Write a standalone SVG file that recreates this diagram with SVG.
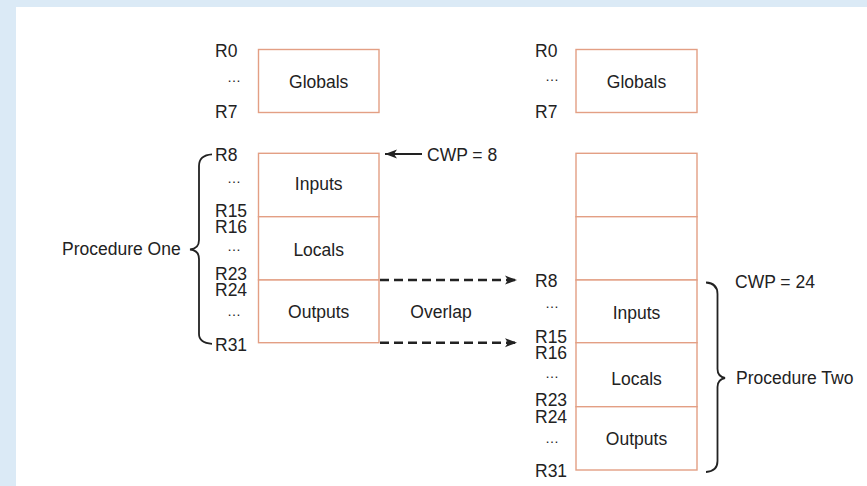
<svg xmlns="http://www.w3.org/2000/svg" width="867" height="486" viewBox="0 0 867 486">
  <style>
    text { font-family: "Liberation Sans", Arial, sans-serif; font-size: 17.5px; fill: #222; }
    .c { text-anchor: middle; }
    .dots { font-size: 14px; text-anchor: middle; }
    .box { fill: #fff; stroke: #e39f84; stroke-width: 1.4; }
    .brace { fill: none; stroke: #222; stroke-width: 1.8; }
    .dash { fill: none; stroke: #222; stroke-width: 2.4; stroke-dasharray: 9 5; }
    .solid { fill: none; stroke: #222; stroke-width: 2.2; }
  </style>
  <defs>
    <marker id="ah" markerUnits="userSpaceOnUse" markerWidth="14" markerHeight="12" viewBox="0 0 14 12" refX="12" refY="6" orient="auto">
      <path d="M0,1.5 L12,6 L0,10.5 L3,6 Z" fill="#222"/>
    </marker>
  </defs>

  <!-- background -->
  <rect x="0" y="0" width="867" height="486" fill="#dbeaf6"/>
  <rect x="16" y="7" width="851" height="479" fill="#fff"/>

  <!-- Left register file -->
  <g id="left-globals">
    <rect class="box" x="258.5" y="49.5" width="120.5" height="63"/>
    <text class="c" x="318.7" y="88">Globals</text>
    <text x="215" y="57">R0</text>
    <text class="dots" x="234" y="82">…</text>
    <text x="215" y="118">R7</text>
  </g>
  <g id="left-inputs">
    <rect class="box" x="258.5" y="153.3" width="120.5" height="63.4"/>
    <text class="c" x="318.7" y="190">Inputs</text>
    <text x="215" y="161">R8</text>
    <text class="dots" x="234" y="183">…</text>
    <text x="215" y="216.5">R15</text>
  </g>
  <g id="left-locals">
    <rect class="box" x="258.5" y="216.7" width="120.5" height="63.3"/>
    <text class="c" x="318.7" y="256">Locals</text>
    <text x="215" y="232.5">R16</text>
    <text class="dots" x="234" y="251">…</text>
    <text x="215" y="280">R23</text>
  </g>
  <g id="left-outputs">
    <rect class="box" x="258.5" y="280" width="120.5" height="62.7"/>
    <text class="c" x="318.7" y="317.5">Outputs</text>
    <text x="215" y="296">R24</text>
    <text class="dots" x="234" y="316">…</text>
    <text x="215" y="351">R31</text>
  </g>
  <g id="procedure-one">
    <text x="62" y="255">Procedure One</text>
  </g>
  <g id="cwp-8">
    <text x="427" y="160.7">CWP = 8</text>
  </g>
  <g id="overlap">
    <text class="c" x="441" y="317.5">Overlap</text>
  </g>

  <!-- Right register file -->
  <g id="right-globals">
    <rect class="box" x="576" y="49.5" width="121" height="63"/>
    <text class="c" x="636.5" y="88">Globals</text>
    <text x="535" y="57">R0</text>
    <text class="dots" x="552" y="81">…</text>
    <text x="535" y="118">R7</text>
  </g>
  <g id="right-upper1">
    <rect class="box" x="576" y="153.3" width="121" height="63.4"/>
  </g>
  <g id="right-upper2">
    <rect class="box" x="576" y="216.7" width="121" height="63.3"/>
  </g>
  <g id="right-inputs">
    <rect class="box" x="576" y="280" width="121" height="62.7"/>
    <text class="c" x="636.5" y="318.5">Inputs</text>
    <text x="535" y="286.5">R8</text>
    <text class="dots" x="552" y="308">…</text>
    <text x="535" y="342.7">R15</text>
  </g>
  <g id="right-locals">
    <rect class="box" x="576" y="342.7" width="121" height="64"/>
    <text class="c" x="636.5" y="385">Locals</text>
    <text x="535" y="358.7">R16</text>
    <text class="dots" x="552" y="378">…</text>
    <text x="535" y="406">R23</text>
  </g>
  <g id="right-outputs">
    <rect class="box" x="576" y="406.7" width="121" height="63.3"/>
    <text class="c" x="636.5" y="445">Outputs</text>
    <text x="535" y="422.7">R24</text>
    <text class="dots" x="552" y="443">…</text>
    <text x="535" y="477.3">R31</text>
  </g>
  <g id="cwp-24">
    <text x="735" y="288">CWP = 24</text>
  </g>
  <g id="procedure-two">
    <text x="736" y="384">Procedure Two</text>
  </g>

  <!-- connectors -->
  <g id="connectors">
    <path class="brace" d="M212,154.3 C204,154.8 199,158 199,166 L199,240 C199,246 196,249 190,249.5 C196,250 199,253 199,259 L199,334 C199,340 204,343.3 212,343.8"/>
    <path class="brace" d="M706,282.5 C714,283 717.5,286.5 717.5,294 L717.5,369 C717.5,374 720,377 725,378 C720,379 717.5,382 717.5,387 L717.5,461 C717.5,468 714,471.5 706,472"/>
    <line class="solid" x1="422" y1="154" x2="385" y2="154" marker-end="url(#ah)"/>
    <line class="dash" x1="380" y1="280" x2="517" y2="280" marker-end="url(#ah)"/>
    <line class="dash" x1="380" y1="342.7" x2="517" y2="342.7" marker-end="url(#ah)"/>
  </g>
</svg>
